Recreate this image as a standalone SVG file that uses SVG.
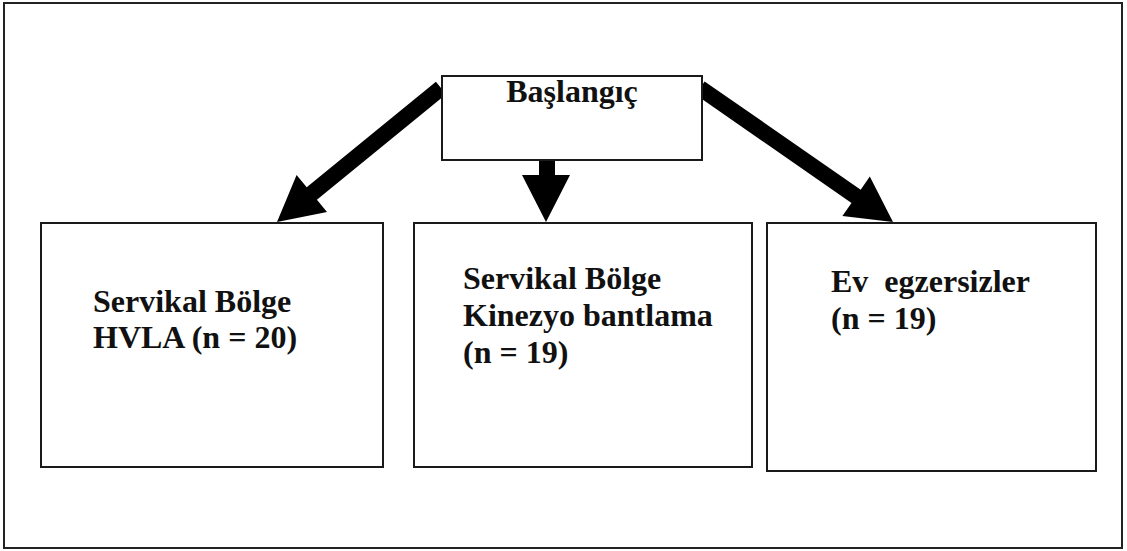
<svg xmlns="http://www.w3.org/2000/svg" width="1127" height="551" viewBox="0 0 1127 551">
<style>
.box{fill:#fff;stroke:#1a1a1a;stroke-width:2}
.lbl{font-family:"Liberation Serif","Times New Roman",serif;font-weight:bold;font-size:32px;fill:#111}
.arr{fill:#000;stroke:none}
</style>
<rect x="0" y="0" width="1127" height="551" fill="#fff"/>
<rect id="frame" x="4" y="3" width="1118" height="545" fill="none" stroke="#222" stroke-width="2"/>
<g id="connectors">
<polygon class="arr" points="446.1,94.2 316.9,199.7 327,212.1 277,222 296.6,174.9 306.7,187.3 435.9,81.8"/>
<polygon class="arr" points="539,158 555,158 555,175 570,175 546,222 522,175 539,175"/>
<polygon class="arr" points="704.6,81.4 860.7,189.7 869.8,176.6 893,222 842.4,216 851.5,202.9 695.4,94.6"/>
</g>
<g id="start">
<rect class="box" x="442" y="76" width="260" height="84"/>
<text class="lbl" x="572" y="102" text-anchor="middle">Başlangıç</text>
</g>
<g id="hvla">
<rect class="box" x="41" y="223" width="342" height="244"/>
<text class="lbl" x="93" y="312">Servikal Bölge</text>
<text class="lbl" x="93" y="348">HVLA (n = 20)</text>
</g>
<g id="kinezyo">
<rect class="box" x="414" y="223" width="338" height="244"/>
<text class="lbl" x="463" y="289">Servikal Bölge</text>
<text class="lbl" x="463" y="326">Kinezyo bantlama</text>
<text class="lbl" x="463" y="363">(n = 19)</text>
</g>
<g id="ev">
<rect class="box" x="767" y="223" width="329" height="248"/>
<text class="lbl" x="831" y="292" xml:space="preserve">Ev  egzersizler</text>
<text class="lbl" x="831" y="329">(n = 19)</text>
</g>
</svg>
